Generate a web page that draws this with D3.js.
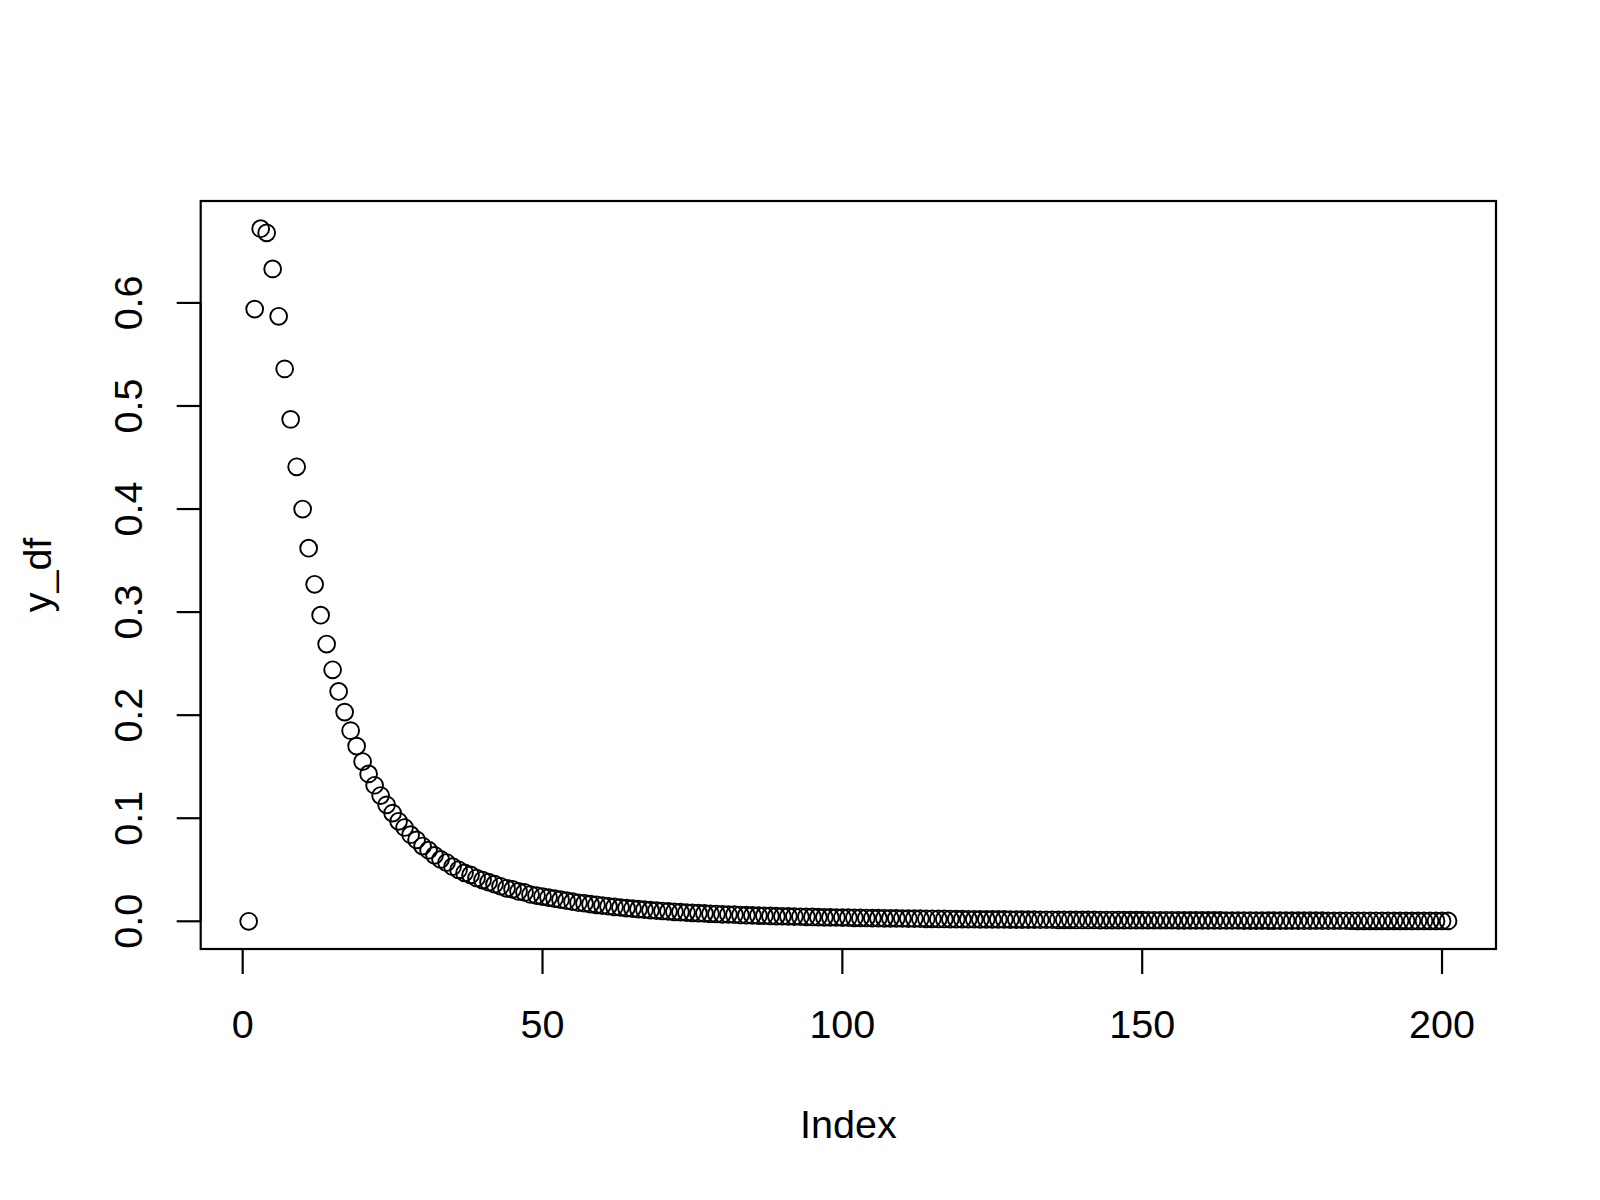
<!DOCTYPE html>
<html><head><meta charset="utf-8">
<script src="https://cdn.jsdelivr.net/npm/d3@7"></script>
<style>body{margin:0;background:#fff}text{font-family:"Liberation Sans",Arial,sans-serif;fill:#000}</style>
</head><body>
<svg id="c" width="1600" height="1200"></svg>
<script>
const yValues = [0,
.594,.672,.668,.633,.587,.536,.487,.441,.400,.362,.327,.297,.269,.244,.223,.203,.185,.170,.155,.143,.132,.122,.113,.105,.097,.091,.084,.079,.073,.069,.064,.060,.057,.053,.050,.047,.045,.042,.040,
.038,.036,.034,.032,.031,.029,.028,.026,.025,.024,.023,.022,.021,.020,.019,.018,.0175,.0167,.016,.0153,
.0146,.014,.0134,.0128,.0123,.0118,.0113,.0108,.0104,.010,.0096,.0092,.0089,.0085,.0082,.0079,.0076,.0073,.0071,.0068,
.0066,.0064,.0061,.0059,.0057,.0055,.0054,.0052,.005,.0049,.0047,.0046,.0044,.0043,.0042,.004,.0039,.0038,.0037,.0036,
.0035,.0034,.0033,.0032,.0031,.003,.0029,.0029,.0028,.0027,.0026,.0026,.0025,.0024,.0024,.0023,.0023,.0022,.0021,.0021,
.002,.002,.0019,.0019,.0019,.0018,.0018,.0017,.0017,.0016,.0016,.0016,.0015,.0015,.0015,.0014,.0014,.0014,.0013,.0013,
.0013,.0013,.0012,.0012,.0012,.0012,.0011,.0011,.0011,.0011,.001,.001,.001,.001,.001,.00095,.00093,.00091,.00089,.00087,
.00085,.00083,.00081,.00079,.00077,.00076,.00074,.00072,.00071,.00069,.00068,.00066,.00065,.00064,.00062,.00061,.0006,.00059,.00058,.00056,
.00055,.00054,.00053,.00052,.00051,.0005,.00049,.00048,.00047,.00046,.00046,.00045,.00044,.00043,.00042,.00042,.00041,.0004,.0004,.00039,.00038];
const xTicks = [0,50,100,150,200];
const yTicks = [0,0.1,0.2,0.3,0.4,0.5,0.6];
const yTickLabels = ["0.0","0.1","0.2","0.3","0.4","0.5","0.6"];
const xLabel = "Index", yLabel = "y_df";

const L=200.7,R=1496,T=201,B=949;
const n=yValues.length, ymax=d3.max(yValues);
const x=d3.scaleLinear().domain([1-0.04*(n-1), n+0.04*(n-1)]).range([L,R]);
const y=d3.scaleLinear().domain([-0.04*ymax, ymax*1.04]).range([B,T]);
const svg=d3.select("#c");
svg.append("rect").attr("x",L).attr("y",T).attr("width",R-L).attr("height",B-T).attr("fill","none").attr("stroke","#000").attr("stroke-width",2.2);
svg.selectAll("circle").data(yValues).join("circle")
 .attr("cx",(d,i)=>x(i+1)).attr("cy",d=>y(d)).attr("r",8.4)
 .attr("fill","none").attr("stroke","#000").attr("stroke-width",1.9);
const gx=svg.append("g");
gx.append("line").attr("x1",x(0)).attr("x2",x(200)).attr("y1",B).attr("y2",B).attr("stroke","#000").attr("stroke-width",2.2);
xTicks.forEach(t=>{
 gx.append("line").attr("x1",x(t)).attr("x2",x(t)).attr("y1",B).attr("y2",B+25).attr("stroke","#000").attr("stroke-width",2.2);
 gx.append("text").attr("x",x(t)).attr("y",1038).attr("text-anchor","middle").attr("font-size",39.5).text(t);
});
const gy=svg.append("g");
gy.append("line").attr("x1",L).attr("x2",L).attr("y1",y(0)).attr("y2",y(0.6)).attr("stroke","#000").attr("stroke-width",2.2);
yTicks.forEach((t,i)=>{
 gy.append("line").attr("x1",L-24).attr("x2",L).attr("y1",y(t)).attr("y2",y(t)).attr("stroke","#000").attr("stroke-width",2.2);
 gy.append("text").attr("transform",`translate(142,${y(t)}) rotate(-90)`).attr("text-anchor","middle").attr("font-size",39.5).text(yTickLabels[i]);
});
svg.append("text").attr("x",(L+R)/2).attr("y",1138).attr("text-anchor","middle").attr("font-size",39.5).text(xLabel);
svg.append("text").attr("transform",`translate(51,${(T+B)/2}) rotate(-90)`).attr("text-anchor","middle").attr("font-size",39.5).text(yLabel);
</script></body></html>
